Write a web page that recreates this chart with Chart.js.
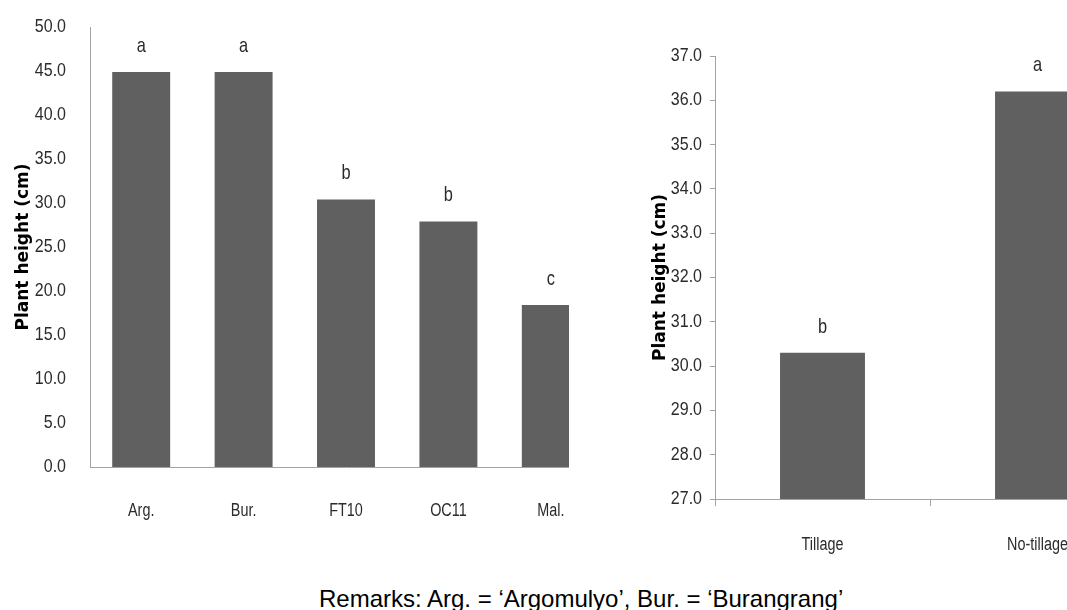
<!DOCTYPE html>
<html>
<head>
<meta charset="utf-8">
<script src="https://cdn.jsdelivr.net/npm/chart.js@4.4.1/dist/chart.umd.min.js"></script>
<style>
  html, body { margin: 0; padding: 0; background: #fff; overflow: hidden; }
  #wrap { position: relative; width: 1067px; height: 610px; overflow: hidden; background: #fff; }
  #leftClip { position: absolute; left: 0; top: 0; width: 569px; height: 570px; overflow: hidden; }
  #c1 { position: absolute; left: 0; top: 0; }
  #c2 { position: absolute; left: 600px; top: 0; }
  #remarks { position: absolute; left: 319px; top: 587px; white-space: nowrap; line-height: 24px;
    font-family: "Liberation Sans", Arial, sans-serif; font-size: 24px; color: #000; }
</style>
</head>
<body>
<div id="wrap">
  <div id="leftClip"><canvas id="c1" width="610" height="560"></canvas></div>
  <canvas id="c2" width="560" height="560"></canvas>
  <div id="remarks">Remarks: Arg. = ‘Argomulyo’, Bur. = ‘Burangrang’</div>
</div>
<script>
// ---- Data ----
const varietyLabels = ["Arg.", "Bur.", "FT10", "OC11", "Mal."];
const varietyHeights = [44.9, 44.9, 30.4, 27.9, 18.4];
const varietyLetters = ["a", "a", "b", "b", "c"];
const varietyTicks = { min: 0, max: 50, step: 5 };

const tillageLabels = ["Tillage", "No-tillage"];
const tillageHeights = [30.3, 36.2];
const tillageLetters = ["b", "a"];
const tillageTicks = { min: 27, max: 37, step: 1 };

const yTitle = "Plant height (cm)";

// ---- Styling ----
const BAR = "#606060";
const AXIS = "#a3a3a3";
const TXT = "#2b2b2b";
// three font stacks, all Liberation Sans, told apart by their fallback so each gets its own squeeze
const YFAMILY = "'Liberation Sans', Arial, sans-serif";      // y tick labels
const XFAMILY = "'Liberation Sans', Helvetica, sans-serif";  // category labels
const LFAMILY = "'Liberation Sans', Arimo, sans-serif";      // significance letters
const SQUEEZE = { Arial: 0.89, Helvetica: 0.8, Arimo: 0.78 };
const YFONT = { family: YFAMILY, size: 18 };
const XFONT = { family: XFAMILY, size: 18 };
const LETTERSIZE = 21;
const TITLEFONT = { family: "'DejaVu Sans', Verdana, sans-serif", size: 17, weight: "bold" };

// Narrow rendering of the label fonts (draws real text, squeezed horizontally like Calibri)
function narrowContext(canvas) {
  const ctx = canvas.getContext("2d");
  const orig = ctx.fillText.bind(ctx);
  ctx.fillText = function (text, x, y, maxWidth) {
    const f = this.font;
    let k = 0;
    if (f.indexOf("Liberation Sans") >= 0 && f.indexOf("bold") < 0) {
      for (const key in SQUEEZE) { if (f.indexOf(key) >= 0) { k = SQUEEZE[key]; break; } }
    }
    if (k) {
      this.save();
      this.translate(x, y);
      this.scale(k, 1);
      orig(text, 0, 0);
      this.restore();
    } else if (maxWidth !== undefined) {
      orig(text, x, y, maxWidth);
    } else {
      orig(text, x, y);
    }
  };
  return canvas;
}

const letterPlugin = {
  id: "letters",
  afterDatasetsDraw(chart, args, opts) {
    const ctx = chart.ctx;
    const meta = chart.getDatasetMeta(0);
    ctx.save();
    ctx.font = LETTERSIZE + "px " + LFAMILY;
    ctx.fillStyle = TXT;
    ctx.textAlign = "center";
    ctx.textBaseline = "middle";
    meta.data.forEach((el, i) => {
      ctx.fillText(opts.letters[i], el.x, el.y - 26);
    });
    ctx.restore();
  }
};

function makeChart(id, labels, values, letters, tk, cfg) {
  return new Chart(narrowContext(document.getElementById(id)), {
    type: "bar",
    data: {
      labels: labels,
      datasets: [{
        data: values,
        backgroundColor: BAR,
        borderWidth: 0,
        barPercentage: cfg.barPct,
        categoryPercentage: 1.0
      }]
    },
    options: {
      responsive: false,
      animation: false,
      devicePixelRatio: 1,
      layout: { padding: { top: cfg.padTop, right: cfg.padRight, left: 0, bottom: 0 } },
      plugins: {
        legend: { display: false },
        tooltip: { enabled: false },
        letters: { letters: letters }
      },
      scales: {
        x: {
          grid: cfg.xTicks
            ? { display: true, drawOnChartArea: false, drawTicks: true, tickLength: 7, color: AXIS, offset: true }
            : { display: false },
          border: { display: true, color: AXIS, width: 1 },
          ticks: { font: XFONT, color: TXT, padding: cfg.xPad, maxRotation: 0, autoSkip: false },
          afterFit: (s) => { s.height = cfg.xHeight; }
        },
        y: {
          min: tk.min,
          max: tk.max,
          grid: cfg.yTicks
            ? { display: true, drawOnChartArea: false, drawTicks: true, tickLength: 5, color: AXIS }
            : { display: false },
          border: { display: true, color: AXIS, width: 1 },
          ticks: {
            stepSize: tk.step,
            font: YFONT,
            color: TXT,
            padding: cfg.yPad,
            callback: (v) => Number(v).toFixed(1)
          },
          title: {
            display: true,
            text: yTitle,
            font: TITLEFONT,
            color: "#000",
            padding: { top: cfg.titlePad, bottom: 0 }
          },
          afterFit: (s) => { s.width = cfg.yWidth; }
        }
      }
    },
    plugins: [letterPlugin]
  });
}

makeChart("c1", varietyLabels, varietyHeights, varietyLetters, varietyTicks, {
  barPct: 0.566, padTop: 27, padRight: 8, xHeight: 93, yWidth: 90,
  xPad: 25, yPad: 16, titlePad: 13, xTicks: false, yTicks: false
});

makeChart("c2", tillageLabels, tillageHeights, tillageLetters, tillageTicks, {
  barPct: 0.395, padTop: 56, padRight: 15, xHeight: 61, yWidth: 115,
  xPad: 28, yPad: 8, titlePad: 50, xTicks: true, yTicks: true
});
</script>
</body>
</html>
